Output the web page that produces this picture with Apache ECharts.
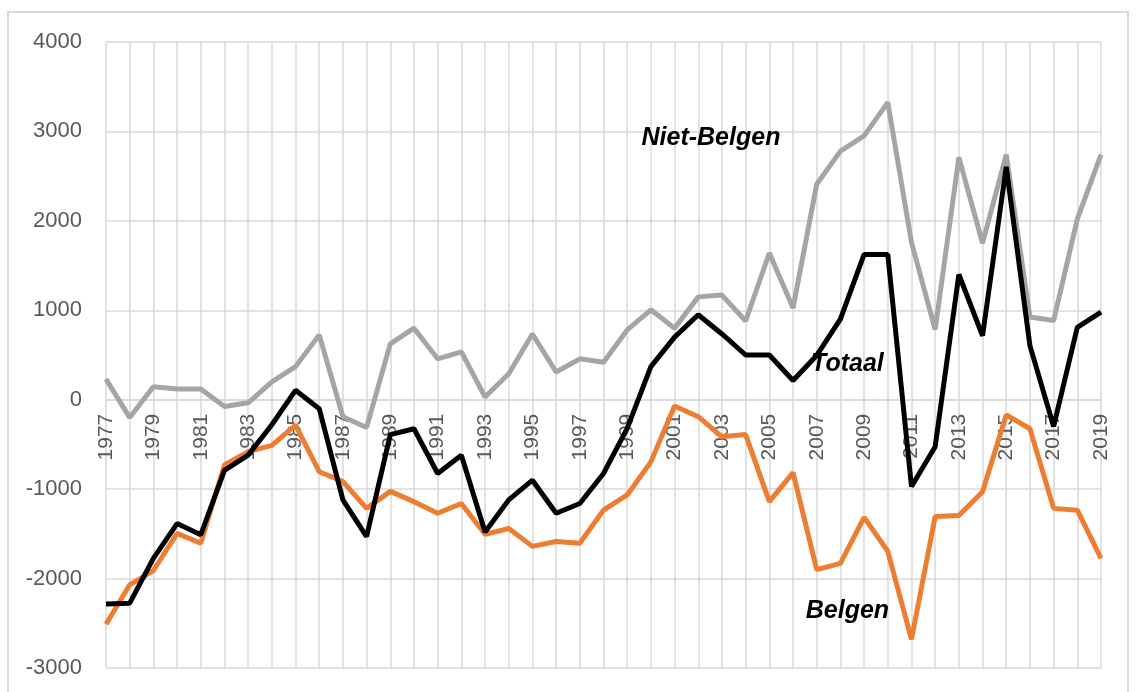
<!DOCTYPE html>
<html lang="nl">
<head>
    <meta charset="UTF-8">
    <title>Migratiesaldo</title>
    <script src="https://cdn.jsdelivr.net/npm/echarts@6/dist/echarts.min.js"></script>
</head>
<style>
    *{
        margin: 0px;
    }
    body{
        background: #fff;
    }
    #main{
        width: 1136px;
        height: 692px;
    }
</style>
<body>
<div id="main"></div>
<script type="text/javascript">
    // jaren
    var years = [];
    for (var y = 1977; y <= 2019; y++) years.push(String(y));

    var nietBelgen = [230, -200, 145, 120, 120, -75, -35, 200, 370, 725, -190, -310, 625, 800, 457, 535,
        30, 290, 735, 310, 457, 420, 780, 1005, 800, 1150, 1170, 880, 1640, 1025, 2410, 2780,
        2950, 3325, 1760, 785, 2710, 1750, 2740, 925, 885, 2020, 2740];

    var totaal = [-2285, -2275, -1775, -1385, -1510, -790, -620, -280, 105, -100, -1120, -1530, -390, -325,
        -825, -620, -1480, -1120, -900, -1270, -1160, -825, -320, 370, 700, 950, 735, 500, 500, 215,
        495, 900, 1625, 1625, -970, -525, 1400, 715, 2605, 605, -300, 810, 980];

    var belgen = [-2510, -2070, -1910, -1495, -1605, -730, -580, -510, -285, -805, -915, -1215, -1025,
        -1140, -1270, -1160, -1505, -1440, -1640, -1585, -1605, -1235, -1065, -695, -70, -190, -415,
        -390, -1140, -815, -1900, -1830, -1315, -1695, -2680, -1305, -1295, -1030, -170, -325, -1215,
        -1235, -1775];

    var yTicks = [-3000, -2000, -1000, 0, 1000, 2000, 3000, 4000];

    var myChart = echarts.init(document.getElementById('main'));

    // tekstlabel bij een lijn
    function naam(tekst, jaar, waarde, dx) {
        return {
            symbol: 'rect',
            symbolSize: 2,
            silent: true,
            itemStyle: {color: 'rgba(0,0,0,0)'},
            data: [{
                coord: [jaar, waarde],
                label: {
                    show: true,
                    formatter: tekst,
                    position: 'inside',
                    offset: [dx, 0],
                    color: '#000',
                    fontSize: 25,
                    fontWeight: 'bold',
                    fontStyle: 'italic',
                    fontFamily: 'Liberation Sans, Arial, sans-serif'
                }
            }]
        };
    }

    var option = {
        animation: false,
        backgroundColor: '#fff',
        grid: {
            left: 106,
            right: 35,
            top: 42,
            bottom: 24,
            outerBoundsMode: 'none',
            containLabel: false
        },
        graphic: [{
            type: 'rect',
            shape: {x: 8, y: 12, width: 1120, height: 700},
            style: {fill: 'none', stroke: '#d9d9d9', lineWidth: 2},
            z: -1
        }],
        xAxis: {
            type: 'category',
            data: years,
            boundaryGap: false,
            position: 'bottom',
            offset: 0,
            axisLine: {onZero: false, lineStyle: {color: '#d9d9d9', width: 1.5}},
            axisTick: {show: false},
            axisLabel: {
                interval: 1,
                rotate: 90,
                margin: 14,
                color: '#595959',
                fontSize: 21,
                fontFamily: 'Liberation Sans, Arial, sans-serif'
            },
            splitLine: {show: true, interval: 0, lineStyle: {color: '#d9d9d9', width: 1.5}}
        },
        yAxis: {
            type: 'value',
            min: yTicks[0],
            max: yTicks[yTicks.length - 1],
            interval: 1000,
            axisLine: {show: false},
            axisTick: {show: false},
            axisLabel: {
                margin: 24,
                color: '#595959',
                fontSize: 22,
                fontFamily: 'Liberation Sans, Arial, sans-serif',
                formatter: function (v) { return String(v); }
            },
            splitLine: {lineStyle: {color: '#d9d9d9', width: 1.5}}
        },
        series: [{
            name: 'Niet-Belgen',
            type: 'line',
            data: nietBelgen,
            symbol: 'none',
            lineStyle: {color: '#a5a5a5', width: 5},
            z: 2,
            markPoint: naam('Niet-Belgen', '2003', 2930, -11)
        }, {
            name: 'Belgen',
            type: 'line',
            data: belgen,
            symbol: 'none',
            lineStyle: {color: '#ed7d31', width: 5},
            z: 3,
            markPoint: naam('Belgen', '2008', -2365, 7)
        }, {
            name: 'Totaal',
            type: 'line',
            data: totaal,
            symbol: 'none',
            lineStyle: {color: '#000', width: 5},
            z: 4,
            markPoint: naam('Totaal', '2008', 400, 7)
        }]
    };
    myChart.setOption(option);

    // x-as naar de nullijn schuiven (onZero werkt hier niet)
    var nulY = myChart.convertToPixel({yAxisIndex: 0}, 0);
    var onderY = myChart.convertToPixel({yAxisIndex: 0}, yTicks[0]);
    myChart.setOption({xAxis: {offset: nulY - onderY}});
</script>
</body>
</html>
